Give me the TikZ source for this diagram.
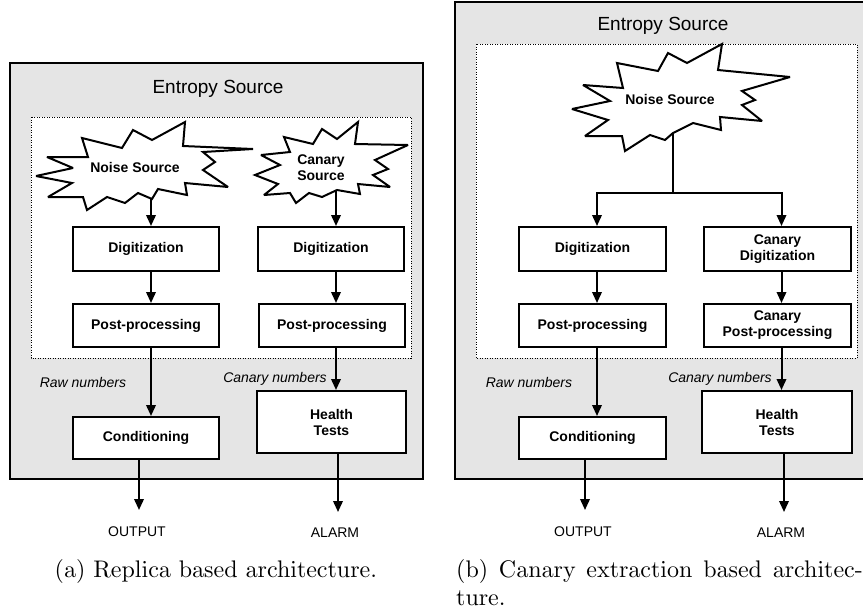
\documentclass[tikz,border=0pt]{standalone}
\usepackage{fontspec}
\setmainfont{Liberation Sans}
\usetikzlibrary{arrows.meta}
\font\capfont=cmr10 at 24pt
\definecolor{panelgray}{RGB}{229,229,229}
\tikzset{
  blk/.style={draw, line width=2pt, fill=white, font=\fontsize{14}{16}\selectfont\bfseries,
    align=center, inner sep=0pt, minimum width=146pt, minimum height=44pt},
  lbl/.style={font=\fontsize{14}{16}\selectfont\itshape, inner sep=0pt},
  outlbl/.style={font=\fontsize{14}{16}\selectfont, inner sep=0pt},
  ttl/.style={font=\fontsize{19}{22}\selectfont, inner sep=0pt},
  burstlbl/.style={font=\fontsize{14}{16}\selectfont\bfseries, align=center, inner sep=0pt},
  arr/.style={line width=2pt, -{Triangle[length=11pt,width=9.5pt]}},
  conn/.style={line width=2pt},
  panelbox/.style={draw, line width=2.2pt, fill=panelgray},
  innerbox/.style={draw, fill=white, line width=0.8pt, dash pattern=on 1pt off 1.5pt},
  burst/.style={draw, fill=white, line width=2pt, line join=miter, miter limit=3},
  captext/.style={font=\capfont, inner sep=0pt}
}
\begin{document}
\begin{tikzpicture}[x=1pt,y=-1pt]
\useasboundingbox (0,0) rectangle (863,614);
\clip (0,0) rectangle (863,614);

% ================= Panel (a) =================
\draw[panelbox] (10,63) rectangle (423,479);
\node[ttl] (titleA) at (218,89) {Entropy Source};
\draw[innerbox] (31,117) rectangle (411,358);

% noise source burst
\draw[burst] (36,176) -- (73,168) -- (47,157) -- (88,157) -- (82,138) -- (122,148) -- (133,130)
  -- (152,140) -- (185,122) -- (183,146) -- (253,149) -- (203,152) -- (215,162) -- (203,170)
  -- (228,187) -- (185,183) -- (187,195) -- (158,189) -- (152,199) -- (138,193) -- (125,203)
  -- (107,197) -- (87,210) -- (83,197) -- (48,197) -- (72,183) -- cycle;
\node[burstlbl] (noiseA) at (135,167) {Noise Source};
\coordinate (noiseAout) at (151,199);

% canary source burst
\draw[burst] (255,175) -- (280,165) -- (261,155) -- (290,152) -- (284,137) -- (313,144) -- (322,129)
  -- (337,139) -- (358,122) -- (355,144) -- (408,145) -- (375,160) -- (388,169) -- (373,175)
  -- (390,187) -- (358,184) -- (360,194) -- (337,190) -- (322,197) -- (309,193) -- (296,203)
  -- (290,193) -- (264,195) -- (278,184) -- cycle;
\node[burstlbl] (canaryA) at (321,168) {Canary\\Source};
\coordinate (canaryAout) at (336,191);

\coordinate (colA1) at (151,0);
\coordinate (colA2) at (336,0);

\node[blk] (digA1) at (146,249) {Digitization};
\node[blk] (digA2) at (331,249) {Digitization};
\node[blk, minimum height=43pt] (postA1) at (146,325.5) {Post-processing};
\node[blk, minimum height=43pt] (postA2) at (332,325.5) {Post-processing};
\node[blk, minimum height=42pt] (condA) at (146,438) {Conditioning};
\node[blk, minimum width=149pt, minimum height=62pt] (healthA) at (331.5,422) {Health\\Tests};

\node[lbl] (rawA) at (83,382) {Raw numbers};
\node[lbl] (canA) at (275,379) {Canary numbers};

\draw[arr] (noiseAout) -- (digA1.north -| colA1);
\draw[arr] (canaryAout) -- (digA2.north -| colA2);
\draw[arr] (digA1.south -| colA1) -- (postA1.north -| colA1);
\draw[arr] (digA2.south -| colA2) -- (postA2.north -| colA2);
\draw[arr] (postA1.south -| colA1) -- (condA.north -| colA1);
\draw[arr] (postA2.south -| colA2) -- (healthA.north -| colA2);

\coordinate (outAend) at (139,510);
\coordinate (alarmAend) at (338,512);
\draw[arr] (condA.south -| outAend) -- (outAend);
\draw[arr] (healthA.south -| alarmAend) -- (alarmAend);
\node[outlbl] (outA) at (137,532) {OUTPUT};
\node[outlbl] (alarmA) at (335,533) {ALARM};

\node[captext, anchor=base] (capA) at (216,577) {(a) Replica based architecture.};

% ================= Panel (b) =================
\draw[panelbox] (455,2) rectangle (870,479);
\node[ttl] (titleB) at (663,26) {Entropy Source};
\draw[innerbox] (476,44) rectangle (857,358);

\draw[burst] (572,109) -- (610,101) -- (583,85) -- (623,88) -- (617,63) -- (658,71) -- (668,53)
  -- (687,63) -- (722,44) -- (718,70) -- (790,77) -- (742,91) -- (755,100) -- (742,105)
  -- (762,121) -- (720,117) -- (721,130) -- (693,123) -- (673,133) -- (665,140) -- (650,135)
  -- (625,151) -- (622,136) -- (585,136) -- (608,120) -- cycle;
\node[burstlbl] (noiseB) at (670,99) {Noise Source};
\coordinate (noiseBout) at (673,133);

\coordinate (colB1) at (597,0);
\coordinate (colB2) at (781.5,0);
\coordinate (brM) at (673,193);

\node[blk, minimum width=147pt] (digB1) at (592.5,249) {Digitization};
\node[blk, minimum width=147pt] (digB2) at (777.5,249) {Canary\\Digitization};
\node[blk, minimum width=147pt, minimum height=43pt] (postB1) at (592.5,325.5) {Post-processing};
\node[blk, minimum width=147pt, minimum height=43pt] (postB2) at (777.5,325.5) {Canary\\Post-processing};
\node[blk, minimum width=147pt, minimum height=42pt] (condB) at (592.5,438) {Conditioning};
\node[blk, minimum width=150pt, minimum height=62pt] (healthB) at (777,422) {Health\\Tests};

\node[lbl] (rawB) at (529,382) {Raw numbers};
\node[lbl] (canB) at (720,379) {Canary numbers};

\draw[conn] (noiseBout) -- (brM);
\draw[arr] (brM) -| (digB1.north -| colB1);
\draw[arr] (brM) -| (digB2.north -| colB2);
\draw[arr] (digB1.south -| colB1) -- (postB1.north -| colB1);
\draw[arr] (digB2.south -| colB2) -- (postB2.north -| colB2);
\draw[arr] (postB1.south -| colB1) -- (condB.north -| colB1);
\draw[arr] (postB2.south -| colB2) -- (healthB.north -| colB2);

\coordinate (outBend) at (585,510);
\coordinate (alarmBend) at (784,512);
\draw[arr] (condB.south -| outBend) -- (outBend);
\draw[arr] (healthB.south -| alarmBend) -- (alarmBend);
\node[outlbl] (outB) at (583,532) {OUTPUT};
\node[outlbl] (alarmB) at (781,533) {ALARM};

\node[captext, anchor=base west] (capB1) at (456,577) {\hbox to 407pt{(b) Canary extraction based architec-}};
\node[captext, anchor=base west] (capB2) at (456,605) {ture.};
\end{tikzpicture}
\end{document}
